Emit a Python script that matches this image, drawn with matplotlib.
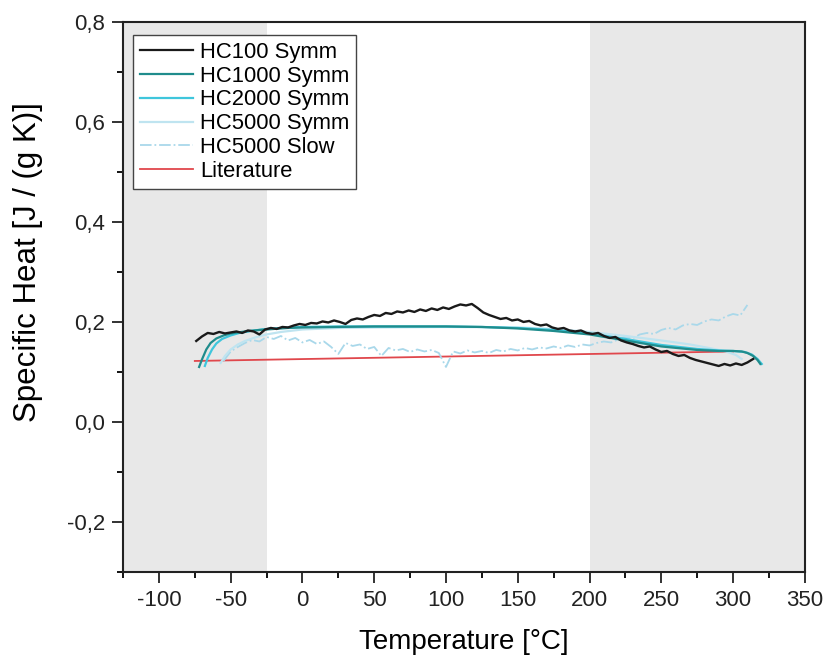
import matplotlib
matplotlib.use("Agg")
import matplotlib.pyplot as plt
import numpy as np
from matplotlib.ticker import MultipleLocator, FuncFormatter

plt.rcParams["font.family"] = ["Liberation Sans", "DejaVu Sans"]
plt.rcParams["axes.unicode_minus"] = False

# HC100 Symm: sampled every 4 degC from -74 to 314
hc100_t = np.arange(-74, 315, 4)
hc100_cp = [
    0.162, 0.171, 0.178, 0.176, 0.180, 0.177, 0.179, 0.181, 0.178, 0.183,
    0.181, 0.175, 0.185, 0.188, 0.186, 0.190, 0.189, 0.193, 0.196, 0.194,
    0.198, 0.197, 0.201, 0.199, 0.203, 0.200, 0.196, 0.204, 0.207, 0.205,
    0.210, 0.214, 0.212, 0.218, 0.216, 0.221, 0.219, 0.223, 0.220, 0.225,
    0.222, 0.227, 0.224, 0.229, 0.226, 0.231, 0.235, 0.233, 0.236, 0.228,
    0.219, 0.214, 0.210, 0.206, 0.208, 0.203, 0.205, 0.200, 0.202, 0.196,
    0.193, 0.195, 0.189, 0.186, 0.188, 0.183, 0.181, 0.183, 0.178, 0.176,
    0.178, 0.172, 0.168, 0.170, 0.163, 0.159, 0.156, 0.152, 0.149, 0.151,
    0.145, 0.140, 0.142, 0.136, 0.132, 0.134, 0.128, 0.124, 0.121, 0.118,
    0.115, 0.112, 0.116, 0.113, 0.117, 0.114, 0.119, 0.126,
]

hc1000_t = [-72, -70, -67, -64, -60, -55, -50, -40, -30, -20, -10, 0, 25, 50, 75,
            100, 125, 150, 175, 200, 225, 250, 275, 290, 300, 306, 310, 314, 317, 319]
hc1000_cp = [0.110, 0.125, 0.145, 0.158, 0.167, 0.173, 0.177, 0.181, 0.184, 0.186,
             0.188, 0.189, 0.190, 0.191, 0.191, 0.191, 0.190, 0.187, 0.182, 0.175,
             0.163, 0.151, 0.144, 0.142, 0.142, 0.141, 0.138, 0.132, 0.124, 0.116]

hc2000_t = [-68, -66, -63, -60, -56, -50, -44, -36, -28, -20, -10, 0, 25, 50,
            100, 125, 150, 175, 200, 225, 250, 275, 290, 300, 308, 313, 317, 320]
hc2000_cp = [0.112, 0.128, 0.145, 0.157, 0.166, 0.173, 0.178, 0.182, 0.185, 0.187,
             0.189, 0.190, 0.191, 0.191, 0.191, 0.190, 0.188, 0.184, 0.177, 0.166,
             0.154, 0.146, 0.143, 0.142, 0.140, 0.135, 0.126, 0.116]

hc5000_t = [-57, -54, -50, -45, -40, -33, -25, -15, 0, 25, 50, 100, 150, 175,
            200, 225, 250, 270, 285, 295, 302, 306]
hc5000_cp = [0.118, 0.132, 0.145, 0.155, 0.162, 0.169, 0.175, 0.180, 0.185, 0.188,
             0.189, 0.190, 0.189, 0.186, 0.180, 0.172, 0.163, 0.155, 0.147, 0.141,
             0.134, 0.126]

# HC5000 Slow: sampled every 5 degC from -55 to 310
slow_t = np.arange(-55, 311, 5)
slow_cp = [
    0.122, 0.141, 0.150, 0.158, 0.164, 0.161, 0.170, 0.166, 0.172, 0.163,
    0.168, 0.159, 0.164, 0.156, 0.161, 0.150, 0.136, 0.158, 0.152, 0.155,
    0.146, 0.150, 0.132, 0.148, 0.143, 0.146, 0.140, 0.145, 0.141, 0.144,
    0.138, 0.110, 0.141, 0.137, 0.143, 0.139, 0.142, 0.138, 0.144, 0.141,
    0.146, 0.143, 0.148, 0.145, 0.149, 0.147, 0.151, 0.148, 0.153, 0.150,
    0.155, 0.153, 0.158, 0.161, 0.159, 0.165, 0.170, 0.167, 0.175, 0.178,
    0.176, 0.184, 0.188, 0.185, 0.193, 0.196, 0.194, 0.201, 0.205, 0.203,
    0.211, 0.216, 0.213, 0.234,
]

lit_t = [-75, 300]
lit_cp = [0.122, 0.141]

fig = plt.figure(figsize=(8.28, 6.58), dpi=100)
ax = fig.add_axes([0.1486, 0.1307, 0.8234, 0.836])

# shaded regions
ax.axvspan(-125, -25, color="#e8e8e8", lw=0, zorder=0)
ax.axvspan(200, 350, color="#e8e8e8", lw=0, zorder=0)

ax.plot(lit_t, lit_cp, color="#e0474c", lw=1.3, label="Literature", zorder=2)
ax.plot(slow_t, slow_cp, color="#a9d8ea", lw=1.3, ls="-.", zorder=2)
ax.plot(hc5000_t, hc5000_cp, color="#bfe4f0", lw=1.6, zorder=3)
ax.plot(hc2000_t, hc2000_cp, color="#3fc6dc", lw=1.6, zorder=4)
ax.plot(hc1000_t, hc1000_cp, color="#1f8c8c", lw=1.6, zorder=5)
ax.plot(hc100_t, hc100_cp, color="#1a1a1a", lw=1.7, zorder=6)

# legend in the original order
handles = [
    plt.Line2D([], [], color="#1a1a1a", lw=1.6),
    plt.Line2D([], [], color="#1f8c8c", lw=1.6),
    plt.Line2D([], [], color="#3fc6dc", lw=1.6),
    plt.Line2D([], [], color="#bfe4f0", lw=1.6),
    plt.Line2D([], [], color="#a9d8ea", lw=1.3, ls="-."),
    plt.Line2D([], [], color="#e0474c", lw=1.3),
]
labels = ["HC100 Symm", "HC1000 Symm", "HC2000 Symm", "HC5000 Symm",
          "HC5000 Slow", "Literature"]
leg = ax.legend(handles, labels, loc="upper left", bbox_to_anchor=(0.015, 0.976),
                borderaxespad=0, fontsize=15.8, handlelength=2.4, handletextpad=0.35,
                labelspacing=0.13, fancybox=False, framealpha=1, borderpad=0.3)
leg.get_frame().set_edgecolor("#444444")
leg.get_frame().set_linewidth(1.0)

ax.set_xlim(-125, 350)
ax.set_ylim(-0.3, 0.8)
ax.xaxis.set_major_locator(MultipleLocator(50))
ax.xaxis.set_minor_locator(MultipleLocator(25))
ax.yaxis.set_major_locator(MultipleLocator(0.2))
ax.yaxis.set_minor_locator(MultipleLocator(0.1))
ax.yaxis.set_major_formatter(FuncFormatter(lambda v, p: f"{v:.1f}".replace(".", ",").replace("-0,0", "0,0")))

ax.tick_params(which="major", direction="out", length=8, width=1.3, pad=5,
               labelsize=16, colors="#222222")
ax.tick_params(which="minor", direction="out", length=4, width=1.3)
ax.tick_params(top=False, right=False, which="both")
for s in ax.spines.values():
    s.set_linewidth(1.5)
    s.set_color("#222222")

ax.set_xlabel("Temperature [°C]", fontsize=20, labelpad=13)
ax.set_ylabel("Specific Heat [J / (g K)]", fontsize=22.5)
ax.yaxis.set_label_coords(-0.117, 0.564)

fig.savefig("out.png", dpi=100)
